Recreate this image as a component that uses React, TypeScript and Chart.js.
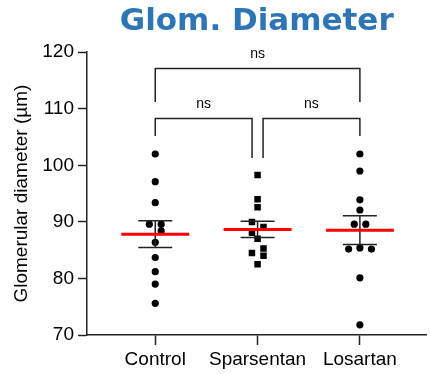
import React, { useEffect, useRef } from "react";
import { Chart, registerables } from "chart.js";

Chart.register(...registerables);

const categories = ["Control", "Sparsentan", "Losartan"];

const controlValues = [102.0, 97.1, 93.4, 89.6, 89.6, 88.4, 86.4, 83.7, 81.2, 79.0, 75.6];
const controlJitter = [0, 0, 0, -0.058, 0.058, 0.058, 0, 0, 0, 0, 0];

const sparsentanValues = [98.3, 94.0, 92.6, 90.0, 89.1, 88.1, 87.0, 85.3, 84.5, 84.0, 82.5];
const sparsentanJitter = [0, 0, 0, -0.055, 0.058, -0.055, 0, 0.058, -0.055, 0.058, 0];

const losartanValues = [102.0, 99.0, 93.9, 92.1, 89.6, 89.6, 85.2, 85.4, 85.2, 80.1, 71.8];
const losartanJitter = [0, 0, 0, 0, -0.055, 0.058, -0.11, 0, 0.113, 0, 0];

const yTicks = [70, 80, 90, 100, 110, 120];

const bracketPairs = [
  [0, 1],
  [1, 2],
  [0, 2],
];
const bracketLevels = [108.3, 108.3, 117.1];
const bracketLeftEnds = [105.2, 101.3, 111.2];
const bracketRightEnds = [101.3, 105.2, 111.2];
const bracketLabels = ["ns", "ns", "ns"];

const groups = [controlValues, sparsentanValues, losartanValues];

const FONT = "'Liberation Sans', Arial, sans-serif";

const overlayPlugin = {
  id: "overlay",
  afterDatasetsDraw(chart: any) {
    const { ctx, scales } = chart;
    const x = scales.x;
    const y = scales.y;
    ctx.save();
    groups.forEach((vals, i) => {
      const n = vals.length;
      const mean = vals.reduce((a, b) => a + b, 0) / n;
      const sd = Math.sqrt(vals.reduce((a, b) => a + (b - mean) ** 2, 0) / (n - 1));
      const sem = sd / Math.sqrt(n);
      const cx = x.getPixelForValue(i + 1);
      const yTop = y.getPixelForValue(mean + sem);
      const yBot = y.getPixelForValue(mean - sem);
      const yMean = y.getPixelForValue(mean);
      ctx.strokeStyle = "#222";
      ctx.lineWidth = 1.5;
      ctx.beginPath();
      ctx.moveTo(cx, yTop);
      ctx.lineTo(cx, yBot);
      ctx.moveTo(cx - 17, yTop);
      ctx.lineTo(cx + 17, yTop);
      ctx.moveTo(cx - 17, yBot);
      ctx.lineTo(cx + 17, yBot);
      ctx.stroke();
      ctx.strokeStyle = "#ff0000";
      ctx.lineWidth = 3;
      ctx.beginPath();
      ctx.moveTo(cx - 34, yMean);
      ctx.lineTo(cx + 34, yMean);
      ctx.stroke();
    });
    ctx.strokeStyle = "#222";
    ctx.lineWidth = 1.5;
    ctx.fillStyle = "#000";
    ctx.font = `14px ${FONT}`;
    ctx.textAlign = "center";
    ctx.textBaseline = "middle";
    bracketPairs.forEach((pair, k) => {
      const adjacent = pair[1] - pair[0] === 1;
      const leftShift = adjacent && pair[0] === 1 ? 5.5 : 0;
      const rightShift = adjacent && pair[1] === 1 ? -5.5 : 0;
      const x1 = x.getPixelForValue(pair[0] + 1) + leftShift;
      const x2 = x.getPixelForValue(pair[1] + 1) + rightShift;
      const yl = y.getPixelForValue(bracketLevels[k]);
      ctx.beginPath();
      ctx.moveTo(x1, y.getPixelForValue(bracketLeftEnds[k]));
      ctx.lineTo(x1, yl);
      ctx.lineTo(x2, yl);
      ctx.lineTo(x2, y.getPixelForValue(bracketRightEnds[k]));
      ctx.stroke();
      ctx.fillText(bracketLabels[k], (x1 + x2) / 2, yl - 14);
    });
    ctx.restore();
  },
};

export default function App() {
  const canvasRef = useRef<HTMLCanvasElement | null>(null);

  useEffect(() => {
    const canvas = canvasRef.current;
    if (!canvas) return;
    const mk = (vals: number[], jit: number[], i: number) =>
      vals.map((v, k) => ({ x: i + 1 + jit[k], y: v }));

    const chart = new Chart(canvas, {
      type: "scatter",
      data: {
        datasets: [
          {
            label: categories[0],
            data: mk(controlValues, controlJitter, 0),
            pointStyle: "circle",
            pointRadius: 3.6,
            backgroundColor: "#000",
            borderColor: "#000",
            borderWidth: 0,
          },
          {
            label: categories[1],
            data: mk(sparsentanValues, sparsentanJitter, 1),
            pointStyle: "rect",
            pointRadius: 4.6,
            backgroundColor: "#000",
            borderColor: "#000",
            borderWidth: 0,
          },
          {
            label: categories[2],
            data: mk(losartanValues, losartanJitter, 2),
            pointStyle: "circle",
            pointRadius: 3.6,
            backgroundColor: "#000",
            borderColor: "#000",
            borderWidth: 0,
          },
        ],
      },
      options: {
        animation: false,
        responsive: true,
        maintainAspectRatio: false,
        layout: { padding: { left: 0, right: 1, top: 0, bottom: 0 } },
        plugins: {
          legend: { display: false },
          tooltip: { enabled: false },
          title: {
            display: true,
            text: "Glom. Diameter",
            color: "#2e75b6",
            fullSize: false,
            font: { family: "'DejaVu Sans', Verdana, sans-serif", size: 31, weight: "bold" },
            padding: { top: 3, bottom: 12 },
          },
        },
        scales: {
          x: {
            type: "linear",
            min: 0.333,
            max: 3.65,
            afterBuildTicks: (scale: any) => {
              scale.ticks = categories.map((_, i) => ({ value: i + 1 }));
            },
            afterFit: (scale: any) => {
              scale.height = 39;
            },
            ticks: {
              color: "#000",
              font: { family: FONT, size: 19 },
              padding: 3,
              callback: (v: any) => categories[Math.round(Number(v)) - 1] ?? "",
            },
            grid: {
              drawOnChartArea: false,
              tickLength: 10,
              tickColor: "#222",
              tickWidth: 1.5,
            },
            border: { display: true, color: "#222", width: 1.5 },
          },
          y: {
            min: 70,
            max: 120,
            afterBuildTicks: (scale: any) => {
              scale.ticks = yTicks.map((v) => ({ value: v }));
            },
            afterFit: (scale: any) => {
              scale.width = 87;
            },
            ticks: {
              color: "#000",
              font: { family: FONT, size: 19 },
              padding: 4,
            },
            grid: {
              drawOnChartArea: false,
              tickLength: 9,
              tickColor: "#222",
              tickWidth: 1.5,
            },
            border: { display: true, color: "#222", width: 1.5 },
            title: {
              display: true,
              text: "Glomerular diameter (µm)",
              color: "#000",
              font: { family: FONT, size: 19 },
              padding: { top: 10, bottom: 0 },
            },
          },
        },
      },
      plugins: [overlayPlugin],
    });
    return () => chart.destroy();
  }, []);

  return (
    <div style={{ position: "fixed", left: 0, top: 0, width: 431, height: 374, background: "#fff" }}>
      <canvas ref={canvasRef} />
    </div>
  );
}
